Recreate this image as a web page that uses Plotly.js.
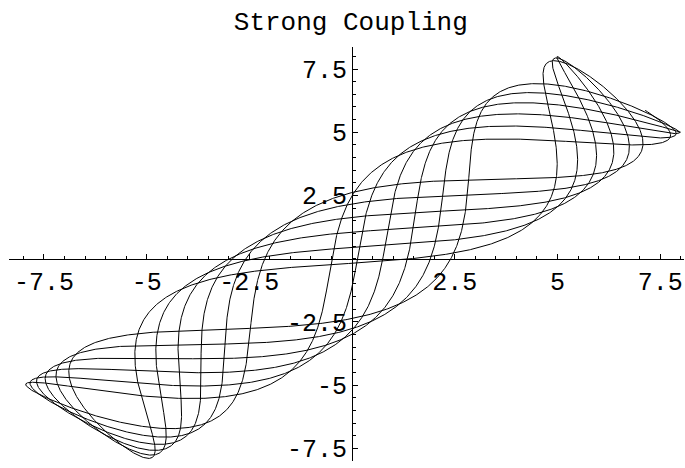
<!DOCTYPE html>
<html>
<head>
<meta charset="utf-8">
<script src="https://cdn.plot.ly/plotly-3.0.1.min.js"></script>
<style>html,body{margin:0;padding:0;background:#fff}</style>
</head>
<body>
<div id="chart" style="width:685px;height:468px"></div>
<script>
// Two equal masses joined by a stiff spring, released from rest.
const initialPositions = [8, 5];          // x1(0), x2(0)
const modeFrequencies = [1, 3.53];        // in-phase mode, out-of-phase mode
const timeSpan = [0, 37.7];
const tickValues = [-7.5, -5, -2.5, 2.5, 5, 7.5];
const tickLabels = ['-7.5', '-5', '-2.5', '2.5', '5', '7.5'];

// Split the start state into its normal-mode amplitudes.
const inPhaseAmp = (initialPositions[0] + initialPositions[1]) / 2;
const outPhaseAmp = (initialPositions[0] - initialPositions[1]) / 2;

const x1 = [], x2 = [];
const steps = 12000;
for (let i = 0; i <= steps; i++) {
  const t = timeSpan[0] + (timeSpan[1] - timeSpan[0]) * i / steps;
  const s = inPhaseAmp * Math.cos(modeFrequencies[0] * t);
  const p = outPhaseAmp * Math.cos(modeFrequencies[1] * t);
  x1.push(s + p);
  x2.push(s - p);
}

const font = 'Liberation Mono, Courier New, monospace';
const xRange = [-8.35, 8.08], yRange = [-8.0, 8.37];

const axisBase = {
  showline: true, linecolor: '#000', linewidth: 1,
  showgrid: false, zeroline: false,
  ticks: 'inside', ticklen: 5, tickwidth: 1, tickcolor: '#000',
  tickmode: 'array', tickvals: tickValues, ticktext: tickLabels,
  tickfont: {family: font, size: 25, color: '#000'},
  minor: {ticks: 'inside', ticklen: 3, tickwidth: 1, tickcolor: '#000', tickmode: 'linear', tick0: 0, dtick: 0.5, showgrid: false},
  anchor: 'free', fixedrange: true
};

const layout = {
  width: 685, height: 468,
  margin: {l: 9, r: 1, t: 47, b: 7},
  paper_bgcolor: '#fff', plot_bgcolor: '#fff',
  showlegend: false,
  title: {
    text: 'Strong Coupling',
    font: {family: font, size: 26, color: '#000'},
    x: 0.5064, xref: 'paper', xanchor: 'center',
    y: 0.955, yref: 'container', yanchor: 'middle'
  },
  xaxis: Object.assign({}, axisBase, {
    range: xRange, side: 'bottom',
    position: (0 - yRange[0]) / (yRange[1] - yRange[0])
  }),
  yaxis: Object.assign({}, axisBase, {
    range: yRange, side: 'left',
    position: (0 - xRange[0]) / (xRange[1] - xRange[0])
  })
};

Plotly.newPlot('chart', [{
  x: x1, y: x2, type: 'scatter', mode: 'lines',
  line: {color: '#000', width: 1}, hoverinfo: 'skip'
}], layout, {staticPlot: true, displayModeBar: false});
</script>
</body>
</html>
